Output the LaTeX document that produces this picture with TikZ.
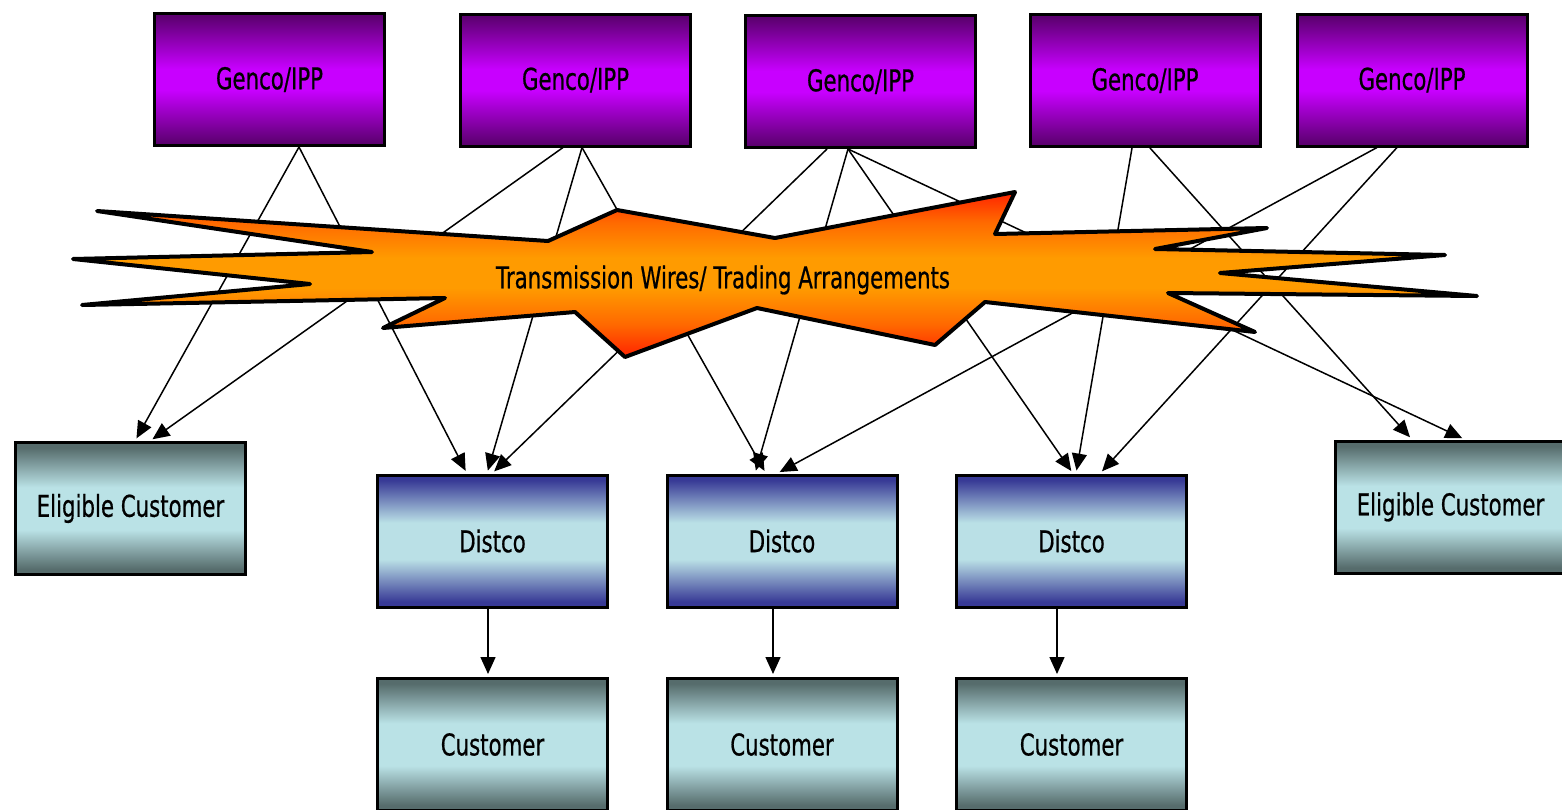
\documentclass[tikz,border=0pt]{standalone}
\usepackage{fontspec}
\setmainfont{DejaVu Sans}[FakeStretch=0.71,FakeBold=0.6]
\usetikzlibrary{arrows.meta}

% box colours
\definecolor{gdark}{RGB}{92,0,112}
\definecolor{glight}{RGB}{200,0,255}
\definecolor{tdark}{RGB}{86,108,108}
\definecolor{tlight}{RGB}{186,226,230}
\definecolor{bdark}{RGB}{56,58,150}
\definecolor{blight}{RGB}{186,224,230}
\definecolor{sred}{RGB}{255,35,0}
\definecolor{smid}{RGB}{255,105,0}
\definecolor{sorange}{RGB}{255,155,0}

% the path's bounding box covers the band 25bp..75bp of each shading
\pgfdeclareverticalshading{gencoshade}{100bp}{color(0bp)=(gdark); color(26bp)=(gdark); color(46bp)=(glight); color(54bp)=(glight); color(74bp)=(gdark); color(100bp)=(gdark)}
\pgfdeclareverticalshading{custshade}{100bp}{color(0bp)=(tdark); color(27bp)=(tdark); color(42bp)=(tlight); color(58bp)=(tlight); color(73bp)=(tdark); color(100bp)=(tdark)}
\pgfdeclareverticalshading{distcoshade}{100bp}{color(0bp)=(bdark); color(27bp)=(bdark); color(43bp)=(blight); color(57bp)=(blight); color(73bp)=(bdark); color(100bp)=(bdark)}
\pgfdeclareverticalshading{burstshade}{100bp}{color(0bp)=(sred); color(25bp)=(sred); color(35bp)=(smid); color(46bp)=(sorange); color(55bp)=(sorange); color(66bp)=(smid); color(75bp)=(sred); color(100bp)=(sred)}

\begin{document}
\begin{tikzpicture}[x=1pt,y=-1pt,
  box/.style={draw=black, line width=3pt, minimum width=230pt, minimum height=132pt,
              inner sep=0pt, font=\fontsize{30}{36}\selectfont},
  genco/.style={box, shading=gencoshade},
  distco/.style={box, shading=distcoshade},
  cust/.style={box, shading=custshade},
  link/.style={line width=1.5pt, -{Triangle[length=17pt,width=15pt]}, shorten >=3pt},
  burst/.style={draw=black, line width=4pt, line join=round, shading=burstshade}]

\useasboundingbox (0,0) rectangle (1562,809);
\fill[white] (0,0) rectangle (1562,809);
\clip (0,0) rectangle (1562,809);

% generators
\node[genco] (g1) at (269.5,79.5) {Genco/IPP};
\node[genco] (g2) at (575.5,80)   {Genco/IPP};
\node[genco] (g3) at (860.5,81.5) {Genco/IPP};
\node[genco] (g4) at (1145,80.5)  {Genco/IPP};
\node[genco] (g5) at (1412,80)    {Genco/IPP};

% eligible customers, distribution companies and their customers
\node[cust]   (eL) at (130.5,508.5) {Eligible Customer};
\node[cust]   (eR) at (1450.5,507)  {Eligible Customer};
\node[distco] (d1) at (492.5,541)   {Distco};
\node[distco] (d2) at (782,541)     {Distco};
\node[distco] (d3) at (1071.5,541)  {Distco};
\node[cust]   (c1) at (492.5,744.5) {Customer};
\node[cust]   (c2) at (782,744.5)   {Customer};
\node[cust]   (c3) at (1071.5,744.5){Customer};

% supply contracts from generators
\draw[link] ([xshift=29.5pt]g1.south) -- ([xshift=4.5pt]eL.north);
\draw[link] ([xshift=29.5pt]g1.south) -- ([xshift=-25.5pt]d1.north);
\draw[link] ([xshift=-12.5pt]g2.south) -- ([xshift=19.5pt]eL.north);
\draw[link] ([xshift=6.5pt]g2.south) -- ([xshift=-5.5pt]d1.north);
\draw[link] ([xshift=6.5pt]g2.south) -- ([xshift=-16pt]d2.north);
\draw[link] ([xshift=-33.5pt]g3.south) -- ([xshift=-0.5pt]d1.north);
\draw[link] ([xshift=-12.5pt]g3.south) -- ([xshift=-27pt]d2.north);
\draw[link] ([xshift=-12.5pt]g3.south) -- ([xshift=1.5pt]d3.north);
\draw[link] ([xshift=-12.5pt]g3.south) -- ([xshift=14.5pt]eR.north);
\draw[link] ([xshift=-13pt]g4.south) -- ([xshift=4.5pt]d3.north);
\draw[link] ([xshift=5pt]g4.south) -- ([xshift=-38.5pt]eR.north);
\draw[link] ([xshift=-35pt]g5.south) -- ([xshift=-5pt]d2.north);
\draw[link] ([xshift=-15pt]g5.south) -- ([xshift=28.5pt]d3.north);

% distribution to end customers
\draw[link] ([xshift=-4.5pt]d1.south) -- ([xshift=-4.5pt]c1.north);
\draw[link] ([xshift=-9pt]d2.south) -- ([xshift=-9pt]c2.north);
\draw[link] ([xshift=-14.5pt]d3.south) -- ([xshift=-14.5pt]c3.north);

% transmission / trading starburst
\path[burst] (97,211) -- (548,241) -- (617,210) -- (775,238) -- (1015,192)
  -- (995,234) -- (1267,228) -- (1155,249) -- (1445,255) -- (1220,273)
  -- (1477,296) -- (1168,293) -- (1255,332) -- (985,302) -- (935,345)
  -- (757,308) -- (625,357) -- (575,312) -- (383,328) -- (445,298)
  -- (82,305) -- (310,284) -- (73,259) -- (372,252) -- cycle;
\node[font=\fontsize{30}{36}\selectfont, inner sep=0pt] (tw) at (723,280)
  {Transmission Wires/ Trading Arrangements};
\end{tikzpicture}
\end{document}
